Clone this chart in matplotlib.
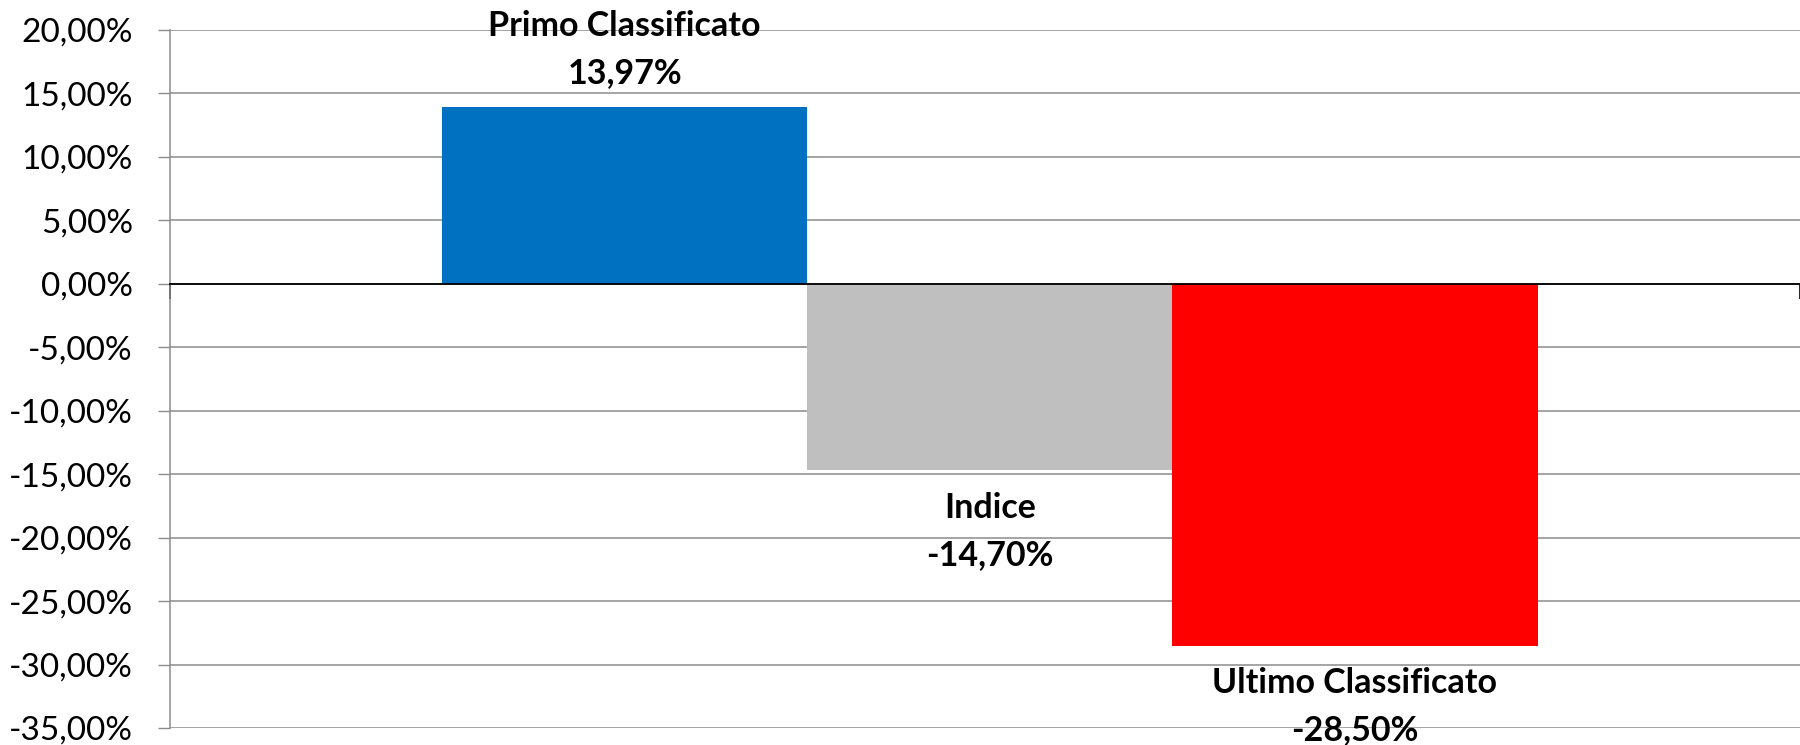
import matplotlib.pyplot as plt
from matplotlib.ticker import FuncFormatter

plt.rcParams['font.family'] = ['Lato', 'DejaVu Sans']

series = ["Primo Classificato", "Indice", "Ultimo Classificato"]
values = [13.97, -14.70, -28.50]
value_labels = ["13,97%", "-14,70%", "-28,50%"]
colors = ["#0070C0", "#BFBFBF", "#FF0000"]
y_ticks = [20, 15, 10, 5, 0, -5, -10, -15, -20, -25, -30, -35]

fig = plt.figure(figsize=(18, 7.45), dpi=100)
ax = fig.add_axes([0.0944, 0.0228, 0.9056, 0.9369])

bar_w = 0.224
offsets = [-bar_w, 0.0, bar_w]
for name, val, lab, col, off in zip(series, values, value_labels, colors, offsets):
    ax.bar(0.003 + off, val, width=bar_w, color=col, zorder=2)
    dy = 41 if val >= 0 else -44
    ax.annotate(f"{name}\n{lab}", xy=(0.003 + off, val), xytext=(0, dy),
                textcoords="offset points", ha="center", va="center",
                fontsize=24.5, fontweight="bold", linespacing=1.55, zorder=5)

ax.set_xlim(-0.5, 0.5)
ax.set_ylim(-35, 20)
ax.set_yticks(y_ticks)
ax.yaxis.set_major_formatter(FuncFormatter(lambda v, p: f"{v:.2f}%".replace(".", ",")))
ax.tick_params(axis="y", labelsize=24, length=8.6, width=1, color="#8C8C8C", pad=18)
ax.grid(axis="y", color="#8C8C8C", linewidth=1.1)
ax.set_axisbelow(True)

ax.set_xticks([-0.5, 0.5])
ax.set_xticklabels(["", ""])
ax.tick_params(axis="x", length=11, width=1.2, color="black", direction="out")

for s in ["top", "right"]:
    ax.spines[s].set_visible(False)
ax.spines["left"].set_color("#8C8C8C")
ax.spines["left"].set_linewidth(1.1)
ax.spines["bottom"].set_position(("data", 0))
ax.spines["bottom"].set_color("black")
ax.spines["bottom"].set_linewidth(1.3)
ax.spines["bottom"].set_zorder(3)

fig.savefig("out.png", dpi=100)
